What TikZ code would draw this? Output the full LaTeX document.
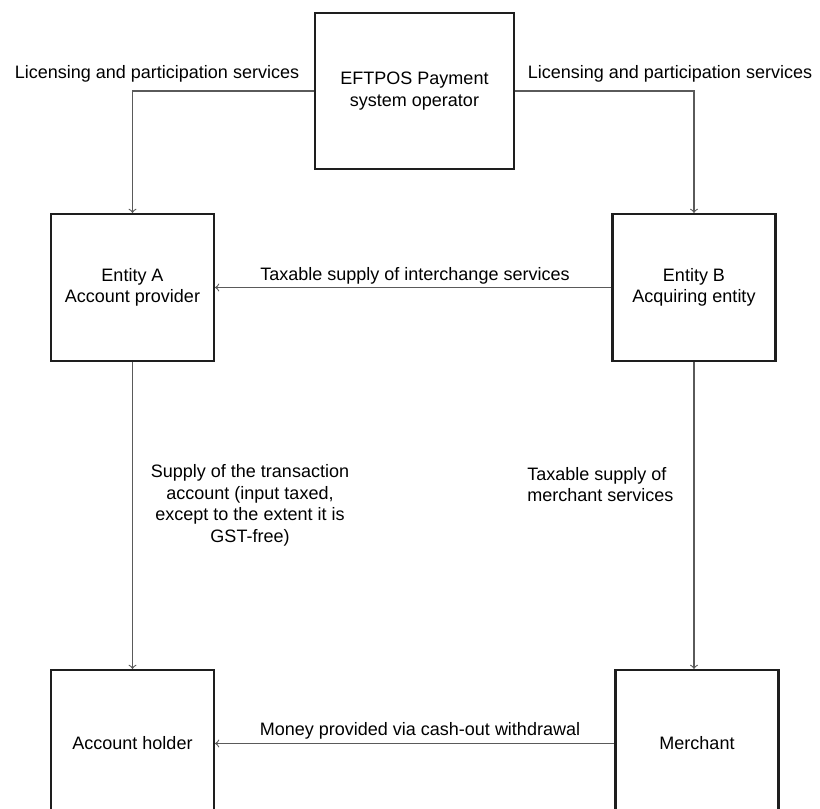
\documentclass[tikz,border=0pt]{standalone}
\usepackage{fontspec}
\setmainfont{Liberation Sans}
\usepackage{tikz}
\definecolor{edge}{HTML}{1E1E1E}
\definecolor{flow}{HTML}{5A5A5A}

\begin{document}
\begin{tikzpicture}[x=0.5pt,y=-0.5pt,
  box/.style={draw=edge, line width=1.1pt, minimum width=81.5pt, minimum height=73.5pt,
    align=center, inner sep=0pt, font=\fontsize{9}{10.75}\selectfont},
  flowline/.style={draw=flow, line width=0.55pt, ->},
  note/.style={inner sep=0pt, font=\fontsize{9}{10.75}\selectfont}]
\useasboundingbox (0,0) rectangle (820,809);
\node[box, minimum width=99.5pt, minimum height=78pt] (op) at (414.5,91) {EFTPOS Payment\\system operator};
\node[box] (entA) at (132.5,287.5) {Entity A\\Account provider};
\node[box] (entB) at (694,287.5) {Entity B\\Acquiring entity};
\node[box] (holder) at (132.5,743.5) {Account holder};
\node[box] (merchant) at (697,743.5) {Merchant};

\draw[flowline] (op.west) -| (entA.north);
\draw[flowline] (op.east) -| (entB.north);
\draw[flowline] (entB.west) -- (entA.east);
\draw[flowline] (entA.south) -- (holder.north);
\draw[flowline] (entB.south) -- (entB.south |- merchant.north);
\draw[flowline] (merchant.west) -- (holder.east);

\node[note] (licA) at (157,74) {Licensing and participation services};
\node[note] (licB) at (670,74) {Licensing and participation services};
\node[note] (inter) at (415,276) {Taxable supply of interchange services};
\node[note, align=center] (acct) at (250,505.5) {Supply of the transaction\\account (input taxed,\\except to the extent it is\\GST-free)};
\node[note, anchor=west, align=left] (msvc) at (527,484.5) {Taxable supply of\\merchant services};
\node[note] (cash) at (420,731) {Money provided via cash-out withdrawal};
\end{tikzpicture}
\end{document}
